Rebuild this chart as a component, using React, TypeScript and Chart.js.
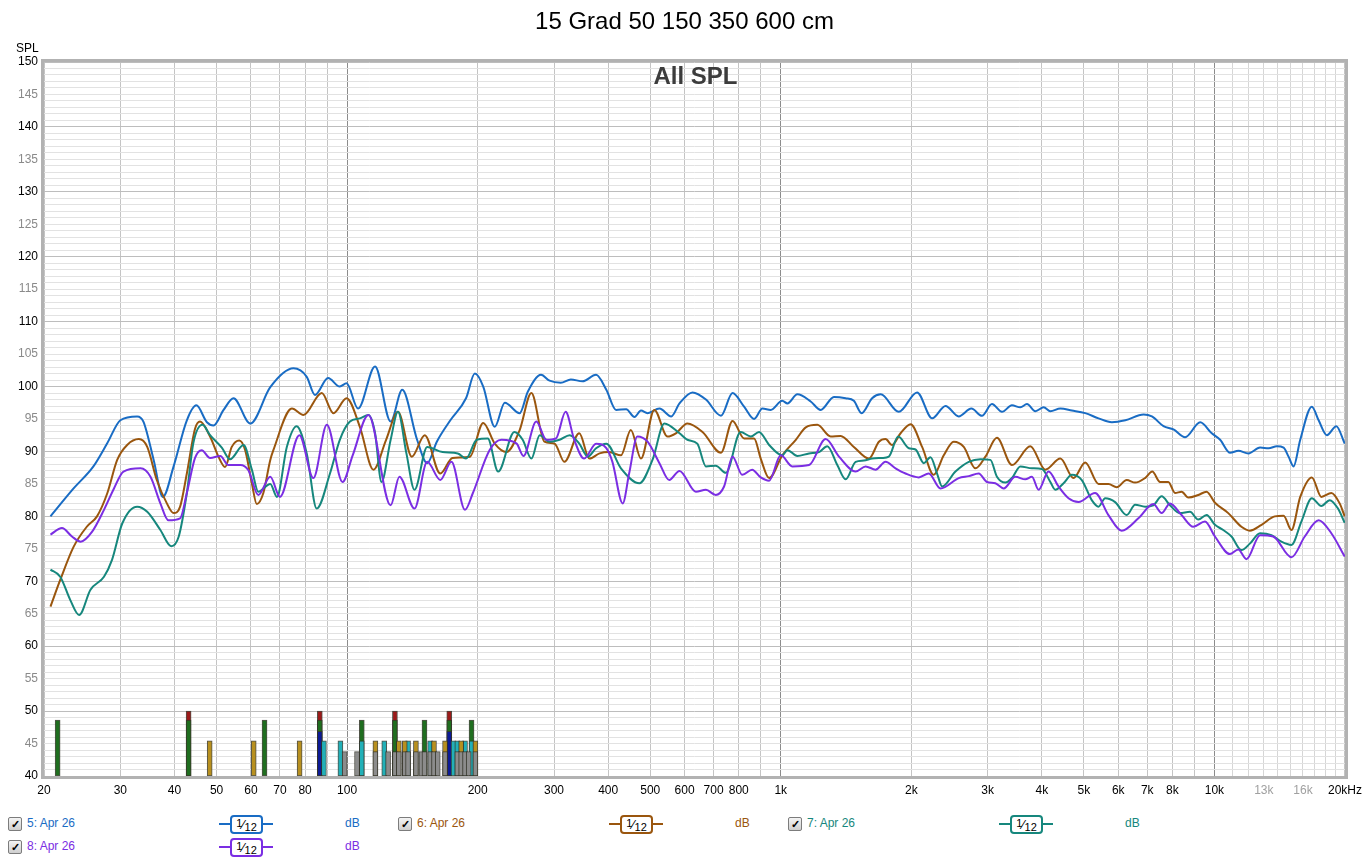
import React, { useEffect, useRef } from 'react';
import { Chart, registerables } from 'chart.js';

Chart.register(...registerables);

const FONT = '"Liberation Sans", Arial, Helvetica, sans-serif';

// ---------- Series 5 (blue) ----------
const freq5 = [20.7,23.4,26.0,28.0,30.0,32.8,33.9,35.8,37.6,39.8,42.7,44.9,47.5,49.2,51.9,54.7,59.8,66.5,75.2,80.7,84.3,90.4,96.2,99.7,106,116,126,134,145,153,161,173,188,197,206,219,231,250,261,280,293,311,328,349,375,396,417,440,460,476,493,525,559,584,626,672,728,774,823,868,907,948,1008,1036,1092,1172,1236,1326,1411,1474,1536,1624,1700,1871,2062,2234,2398,2572,2751,2910,3069,3236,3412,3568,3696,3864,4038,4184,4412,4690,5036,5404,5800,6230,6864,7174,7630,8044,8558,9272,9858,10306,10868,11356,11976,12740,13334,13932,14436,14822,15220,15770,16772,17388,18168,19100,19970];
const spl5 = [80.0,84.3,87.7,91.3,94.8,95.4,94.6,88.7,83.0,87.7,94.8,97.1,94.5,94.0,96.4,98.2,94.3,99.9,102.8,101.5,98.7,101.3,100.0,100.5,96.6,103.1,94.6,99.5,91.8,88.2,91.5,94.8,98.2,102.0,100.0,93.8,97.5,95.9,99.2,101.8,100.9,100.6,101.1,100.8,101.8,99.5,96.4,96.5,95.3,96.3,95.9,96.6,95.4,97.4,99.1,98.0,95.5,99.0,96.9,95.0,96.6,96.4,97.8,97.4,98.8,97.7,96.4,98.4,98.2,97.8,95.9,98.2,98.8,96.1,99.1,95.1,97.0,95.4,96.6,95.5,97.3,96.1,97.1,96.8,97.3,96.2,96.8,96.2,96.6,96.3,95.9,95.1,94.5,94.8,95.7,95.4,93.9,93.4,92.2,94.5,92.8,91.8,89.8,90.1,89.7,90.6,90.5,90.8,90.6,89.2,87.7,91.8,96.9,94.8,92.5,93.9,91.2];

// ---------- Series 6 (brown) ----------
const freq6 = [20.7,21.8,23.4,25.1,26.5,28.0,29.5,31.1,33.1,34.6,36.4,38.4,39.8,41.2,42.7,44.6,45.8,48.3,50.5,52.3,54.2,56.4,58.2,60.3,61.9,64.1,66.5,67.6,74.6,79.3,87.4,93.0,99.7,107,115,123,131,141,151,164,175,192,206,219,233,250,266,285,301,317,343,362,382,402,428,451,476,511,548,573,609,660,728,774,823,868,899,940,1008,1083,1142,1214,1303,1374,1474,1597,1684,1744,1806,1889,1992,2118,2253,2376,2505,2642,2811,2964,3151,3412,3762,4073,4412,4732,5036,5404,5696,5952,6277,6562,6918,7190,7490,7828,8111,8399,8705,9178,9590,10027,10760,11540,12070,12840,13780,14436,15050,15770,16772,17640,18600,19440,19970];
const spl6 = [66.1,70.2,75.3,78.4,80.0,83.6,88.7,91.0,91.9,90.7,85.6,82.0,80.5,81.5,86.6,93.5,94.6,92.3,89.2,87.6,90.7,91.7,90.2,85.1,81.9,83.6,88.7,90.2,96.6,95.6,99.0,95.9,98.2,93.8,87.2,91.8,96.1,89.2,92.5,86.6,89.0,89.2,94.4,91.2,89.9,93.3,99.0,91.5,91.2,88.4,92.8,88.9,89.7,89.9,89.4,93.3,88.9,96.4,92.3,92.8,94.3,93.0,89.8,94.7,92.0,92.0,88.9,85.9,89.4,91.8,93.7,94.1,92.3,92.4,90.7,88.9,91.5,91.9,91.0,92.8,94.2,90.7,86.4,89.4,91.5,90.7,87.4,89.2,92.1,87.9,90.8,87.2,88.9,85.9,88.3,85.0,85.0,84.5,85.6,85.2,85.9,86.9,85.3,85.3,83.6,83.8,82.9,83.3,83.8,82.1,80.5,78.4,77.8,78.7,80.0,80.1,77.9,83.0,86.0,83.0,83.6,82.0,80.0];

// ---------- Series 7 (teal) ----------
const freq7 = [20.7,21.8,23.0,24.1,25.6,27.5,28.7,30.3,32.8,34.6,37.1,39.3,40.9,42.7,44.2,46.4,48.3,51.4,53.7,57.7,60.3,62.4,66.5,68.9,72.6,76.5,80.7,85.1,91.3,96.2,101.5,107,112,116,120,126,131,137,143,153,166,180,188,199,211,223,243,254,266,278,293,309,326,343,359,375,396,428,472,506,539,584,609,642,672,708,747,808,853,891,940,1008,1036,1092,1162,1225,1280,1350,1411,1488,1555,1624,1713,1775,1865,1974,2045,2137,2214,2293,2355,2528,2713,2886,3043,3151,3295,3412,3568,3794,4000,4184,4294,4488,4690,4945,5213,5404,5598,5902,6277,6562,6918,7230,7555,7898,8326,8782,9178,9590,10027,10477,10948,11540,12070,12740,13534,14270,15050,15866,16772,17640,18442,19271,19970];
const spl7 = [71.8,70.7,67.1,64.8,68.7,70.7,73.3,78.9,81.5,80.7,77.9,75.4,76.9,83.6,91.3,94.1,92.5,90.6,88.8,91.0,87.2,83.8,85.0,83.0,90.7,93.9,89.7,81.2,86.6,91.8,94.6,95.1,95.6,92.8,85.3,91.8,96.1,89.7,84.1,90.7,89.9,89.7,88.9,91.8,92.0,86.9,93.0,91.8,88.9,92.5,91.5,91.8,92.5,91.2,89.2,90.5,91.2,87.4,85.1,88.7,94.3,92.8,91.8,91.2,87.7,87.8,86.7,93.0,92.3,93.0,91.0,89.4,90.2,89.3,89.7,89.9,90.8,87.9,85.7,88.4,88.6,88.9,89.0,89.2,92.3,90.5,90.3,88.2,89.1,86.6,84.6,86.9,88.4,88.8,88.7,86.1,85.2,85.9,87.7,87.4,87.3,85.3,84.1,85.1,86.4,85.6,82.5,81.5,82.8,82.2,80.2,81.8,81.5,81.7,83.1,81.7,80.5,80.7,79.5,80.2,78.7,77.9,76.9,74.8,75.8,77.4,77.1,76.1,75.6,79.2,82.8,81.6,82.5,81.2,79.0];

// ---------- Series 8 (purple) ----------
const freq8 = [20.7,22.0,23.2,24.3,25.8,27.5,29.0,30.5,33.4,35.2,37.1,38.7,41.2,42.7,44.6,46.2,48.3,51.0,53.2,56.7,59.2,62.4,66.5,70.0,77.6,83.6,89.8,97.6,103,112,126,132,143,153,164,174,187,195,213,227,246,255,273,288,303,319,334,352,375,396,409,432,447,467,493,525,553,584,637,672,708,740,774,815,859,899,940,1000,1063,1162,1269,1362,1488,1569,1654,1744,1839,1939,2081,2194,2335,2572,2713,2860,2989,3124,3266,3474,3663,3794,3931,4144,4370,4608,4860,5306,5696,6112,6677,7230,7555,7898,8399,8938,9509,10027,10856,11344,11854,12740,13657,15050,16154,17388,18600,19970];
const spl8 = [77.2,78.2,76.9,76.1,77.6,81.0,84.3,86.9,87.4,86.1,82.0,79.4,79.7,83.6,89.0,90.2,89.0,89.3,87.9,87.9,87.1,83.3,86.1,83.0,92.5,85.9,94.1,85.3,89.4,95.6,81.7,86.1,81.2,88.4,85.6,88.4,81.0,83.6,90.2,91.8,91.2,89.3,94.6,91.8,92.0,96.1,91.8,88.9,91.2,90.5,88.4,82.0,86.6,92.3,91.5,88.2,85.6,87.0,83.8,84.1,83.3,84.6,89.2,86.4,87.2,86.0,85.5,89.4,87.7,87.9,91.9,89.2,86.9,87.7,87.2,88.4,87.4,86.6,86.0,86.6,84.3,85.9,86.2,86.6,85.3,85.1,84.3,86.1,85.7,86.1,84.1,86.9,84.6,82.8,82.2,83.6,80.2,77.8,79.7,81.9,80.5,82.0,80.2,78.4,79.2,76.9,74.2,74.9,73.4,77.1,76.9,73.7,76.9,79.4,77.4,73.8];

const seriesNames = ['5: Apr 26', '6: Apr 26', '7: Apr 26', '8: Apr 26'];
const seriesColors = ['#196cc4', '#9a560e', '#16877d', '#7b2ee3'];

// ---------- Marker bars (Hz) and their top levels (dB) ----------
const barHzRed = [43.1, 86.5, 128.9, 172];
const barHzGreen = [21.5, 43.1, 64.5, 86.5, 108.1, 128.9, 150.8, 172, 193.6];
const barHzBlue = [86.5, 172];
const barHzGold = [48.2, 60.9, 77.7, 116.2, 131.6, 135.8, 144.1, 158.6, 168.2, 183.2, 197.6];
const barHzCyan = [88.4, 96.5, 108.1, 121.8, 138.2, 155.4, 175.9, 179.5, 187.0, 193.6];
const barHzGray = [98.7, 105.4, 116.2, 124.3, 128.9, 131.6, 135.8, 138.2, 144.1, 148.4, 150.8, 155.4, 158.6, 161.8, 168.2, 179.5, 183.2, 187.0, 190.7, 197.6];
const barTops = { red: 50.0, green: 48.6, blue: 46.9, gold: 45.4, cyan: 45.4, gray: 43.75 };

// ---------- Axes ----------
const xGridHz = [20,30,40,50,60,70,80,90,100,200,300,400,500,600,700,800,900,1000,2000,3000,4000,5000,6000,7000,8000,9000,10000,11000,12000,13000,14000,15000,16000,17000,18000,19000,20000];
const xTickHz = [20,30,40,50,60,70,80,100,200,300,400,500,600,700,800,1000,2000,3000,4000,5000,6000,7000,8000,10000,13000,16000,20000];
const xTickText = ['20','30','40','50','60','70','80','100','200','300','400','500','600','700','800','1k','2k','3k','4k','5k','6k','7k','8k','10k','13k','16k','20kHz'];
const xGrayTickHz = [13000, 16000];
const Y_MIN = 40;
const Y_MAX = 150;

const framePlugin = {
  id: 'frame',
  afterDraw(chart: any) {
    const { ctx, chartArea: a } = chart;
    ctx.save();
    ctx.strokeStyle = '#b2b2b2';
    ctx.lineWidth = 3;
    ctx.strokeRect(a.left - 1.5, a.top - 1.5, a.right - a.left + 3, a.bottom - a.top + 3);
    ctx.restore();
  },
};

function barSet(hz: number[], top: number, color: string) {
  return {
    type: 'bar' as const,
    data: hz.map((f) => ({ x: f, y: [Y_MIN, top] })),
    backgroundColor: color,
    borderColor: 'rgba(50,50,40,0.85)',
    borderWidth: 1,
    borderSkipped: false,
    barThickness: 5,
    stack: 'modes',
    grouped: true,
  };
}

function lineSet(fr: number[], db: number[], color: string) {
  return {
    type: 'line' as const,
    data: fr.map((f, i) => ({ x: f, y: db[i] })),
    borderColor: color,
    backgroundColor: color,
    borderWidth: 2,
    pointRadius: 0,
    fill: false,
    cubicInterpolationMode: 'monotone' as const,
  };
}

function CheckBox() {
  return (
    <div
      style={{
        width: 12, height: 12, border: '1px solid #7c7c7c', borderRadius: 2,
        background: 'linear-gradient(#f4f4f4, #cfcfcf)', fontSize: 11, lineHeight: '12px',
        textAlign: 'center', fontWeight: 'bold', color: '#000', fontFamily: FONT,
      }}
    >
      ✓
    </div>
  );
}

function LegendItem({ name, color, left, cy }: { name: string; color: string; left: number; cy: number }) {
  return (
    <>
      <div style={{ position: 'absolute', left, top: cy - 7 }}><CheckBox /></div>
      <div style={{ position: 'absolute', left: left + 19, top: cy - 8, fontSize: 12, color, fontFamily: FONT, whiteSpace: 'nowrap' }}>{name}</div>
      <div style={{ position: 'absolute', left: left + 211, top: cy - 1, width: 54, height: 2, background: color }} />
      <div
        style={{
          position: 'absolute', left: left + 222, top: cy - 9, width: 29, height: 15,
          border: `2px solid ${color}`, borderRadius: 4, background: '#fff', fontFamily: FONT,
          color: '#000', fontSize: 11, lineHeight: '15px', textAlign: 'center', whiteSpace: 'nowrap',
        }}
      >
        <span style={{ position: 'relative', top: -2 }}>1</span>
        <span style={{ fontSize: 13 }}>⁄</span>
        <span style={{ position: 'relative', top: 2 }}>12</span>
      </div>
      <div style={{ position: 'absolute', left: left + 337, top: cy - 8, fontSize: 12, color, fontFamily: FONT }}>dB</div>
    </>
  );
}

export default function App() {
  const ref = useRef<HTMLCanvasElement | null>(null);

  useEffect(() => {
    if (!ref.current) return;
    const chart = new Chart(ref.current, {
      type: 'line',
      data: {
        datasets: [
          lineSet(freq8, spl8, seriesColors[3]),
          lineSet(freq7, spl7, seriesColors[2]),
          lineSet(freq6, spl6, seriesColors[1]),
          lineSet(freq5, spl5, seriesColors[0]),
          barSet(barHzGray, barTops.gray, '#8c8c8c'),
          barSet(barHzGold, barTops.gold, '#b8901f'),
          barSet(barHzCyan, barTops.cyan, '#22b0b8'),
          barSet(barHzBlue, barTops.blue, '#0c1a96'),
          barSet(barHzGreen, barTops.green, '#1f6e1f'),
          barSet(barHzRed, barTops.red, '#9c1a1a'),
        ] as any,
      },
      options: {
        animation: false,
        responsive: false,
        devicePixelRatio: 1,
        layout: { padding: { left: 0, top: 62, right: 22, bottom: 0 } },
        plugins: { legend: { display: false }, tooltip: { enabled: false }, title: { display: false } },
        scales: {
          x: {
            type: 'logarithmic',
            min: 20,
            max: 20000,
            offset: false,
            border: { display: false },
            grid: {
              offset: false,
              drawTicks: false,
              lineWidth: 1,
              color: (ctx: any) => {
                const v = ctx.tick ? ctx.tick.value : 0;
                if (v === 100 || v === 1000 || v === 10000) return '#8c8c8c';
                if (v > 10000 && v < 20000) return '#d6d6d6';
                return '#c4c4c4';
              },
            },
            afterBuildTicks: (scale: any) => {
              scale.ticks = xGridHz.map((v) => ({ value: v }));
            },
            afterFit: (scale: any) => {
              scale.height = 24;
            },
            ticks: {
              autoSkip: false,
              maxRotation: 0,
              padding: 7,
              font: { family: FONT, size: 12 },
              color: (ctx: any) => (ctx.tick && xGrayTickHz.includes(ctx.tick.value) ? '#a0a0a0' : '#000'),
              callback: (value: any) => {
                const i = xTickHz.indexOf(Number(value));
                return i >= 0 ? xTickText[i] : '';
              },
            },
          },
          y: {
            type: 'linear',
            min: Y_MIN,
            max: Y_MAX,
            stacked: false,
            border: { display: false },
            grid: {
              drawTicks: false,
              lineWidth: 1,
              color: (ctx: any) => {
                const v = ctx.tick ? ctx.tick.value : 0;
                return v % 10 === 0 ? '#bdbdbd' : '#e2e2e2';
              },
            },
            afterBuildTicks: (scale: any) => {
              const t = [];
              for (let v = Y_MIN; v <= Y_MAX; v++) t.push({ value: v });
              scale.ticks = t;
            },
            afterFit: (scale: any) => {
              scale.width = 44;
            },
            ticks: {
              autoSkip: false,
              padding: 6,
              font: { family: FONT, size: 12 },
              color: (ctx: any) => (ctx.tick && ctx.tick.value % 10 === 0 ? '#000' : '#8a8a8a'),
              callback: (value: any) => (Number(value) % 5 === 0 ? String(value) : ''),
            },
          },
        },
      },
      plugins: [framePlugin],
    });
    return () => chart.destroy();
  }, []);

  return (
    <div style={{ position: 'absolute', left: 0, top: 0, width: 1369, height: 862, background: '#fff', overflow: 'hidden' }}>
      <canvas ref={ref} width={1369} height={800} style={{ position: 'absolute', left: 0, top: 0, width: 1369, height: 800 }} />
      <div style={{ position: 'absolute', left: 0, width: 1369, top: 7, textAlign: 'center', fontFamily: FONT, fontSize: 24, color: '#000' }}>
        15 Grad 50 150 350 600 cm
      </div>
      <div style={{ position: 'absolute', left: 16, top: 41, fontFamily: FONT, fontSize: 12, color: '#000' }}>SPL</div>
      <div style={{ position: 'absolute', left: 44, width: 1303, top: 62, textAlign: 'center', fontFamily: FONT, fontSize: 24, fontWeight: 'bold', color: '#3c3c3c' }}>
        All SPL
      </div>
      <LegendItem name={seriesNames[0]} color={seriesColors[0]} left={8} cy={824} />
      <LegendItem name={seriesNames[1]} color={seriesColors[1]} left={398} cy={824} />
      <LegendItem name={seriesNames[2]} color={seriesColors[2]} left={788} cy={824} />
      <LegendItem name={seriesNames[3]} color={seriesColors[3]} left={8} cy={847} />
    </div>
  );
}
